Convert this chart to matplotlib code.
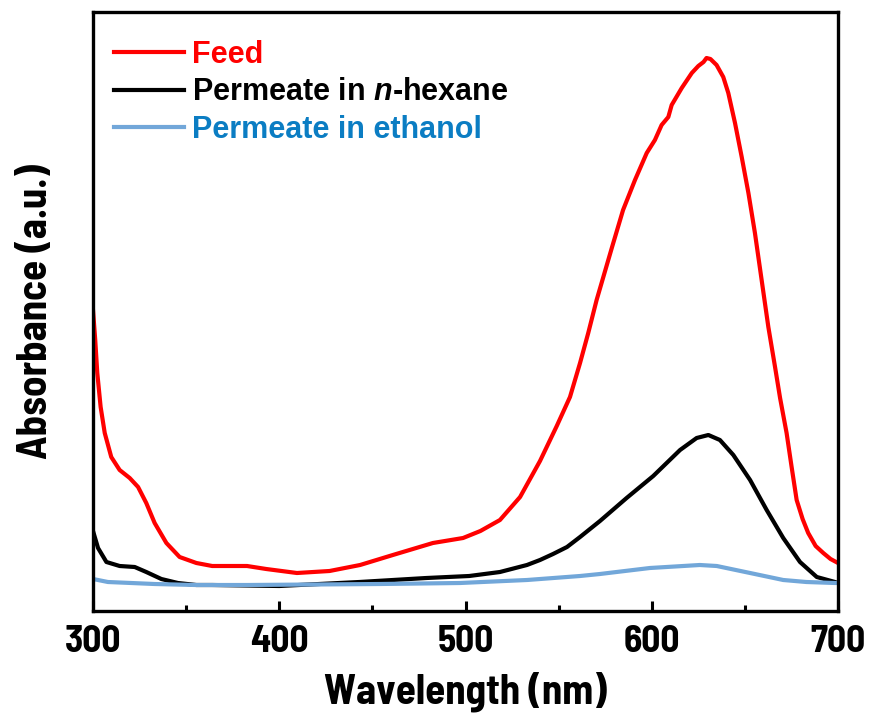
import matplotlib
matplotlib.use('Agg')
import matplotlib.pyplot as plt
from matplotlib import font_manager

# data (absorbance in arbitrary units)
wl_feed = [300, 301.2, 302.3, 304.1, 306.3, 309.8, 314.3, 319.7, 324.2, 328.6, 333.1, 339.4, 346.5,
           355.5, 364, 373, 382.7, 393, 409.5, 427, 443.4, 461, 482.5, 498.7, 508, 518.5, 529.3,
           540, 549, 556.1, 561.5, 565.9, 570.4, 578.7, 584.6, 591, 597.3, 601.7, 605.3, 608.9,
           610.7, 616.1, 621.5, 625, 627.8, 629.4, 631.5, 634.8, 638.4, 641.1, 644.7, 648.3,
           651.9, 655.4, 659, 662.6, 666.2, 668.9, 672.4, 675.1, 677.8, 681, 684, 688, 692.1,
           696, 700]
abs_feed = [301, 271, 238, 204, 178, 154, 141, 133, 124, 108, 88, 68, 54,
            48, 45, 45, 45, 42, 38, 40, 46, 56, 68, 73, 80, 91, 114,
            150, 185, 214, 248, 278, 311, 364, 401, 431, 458, 471, 486, 494,
            506, 523, 538, 545, 549, 553, 552, 546, 534, 518, 488, 454,
            418, 378, 331, 284, 244, 213, 178, 144, 111, 92, 78, 65, 58,
            52, 48]

wl_hex = [300, 302.7, 307.2, 314.3, 322.4, 328.6, 336.7, 345.6, 355.5, 364, 400, 443, 479, 502,
          518.5, 533, 540, 547, 554.5, 561.5, 572.2, 586.5, 600.8, 615.2, 624.1, 630.4, 636.6,
          643.8, 652.8, 661.7, 670.6, 679.6, 688.6, 698.4, 700]
abs_hex = [80, 63, 49, 45, 44, 39, 32, 28, 26, 26, 25, 29, 33, 35,
           39, 46, 51, 57, 64, 74, 90, 113, 135, 161, 173, 176, 171,
           156, 131, 101, 73, 49, 34, 29, 28]

wl_eth = [300, 308, 333, 355, 382.7, 454, 497, 533, 561.5, 572.2, 599, 625.8, 634.9, 652.8,
          670.6, 683, 698.4, 700]
abs_eth = [32, 29, 27, 26, 26, 27, 28, 31, 35, 37, 43, 46, 45, 38,
           31, 29, 28, 28]

names = ['Feed', 'Permeate in $\\mathbfit{n}$-hexane', 'Permeate in ethanol']
line_colors = ['#FF0000', '#000000', '#72A7D9']
text_colors = ['#FF0000', '#000000', '#0B7DC3']

installed = {f.name for f in font_manager.fontManager.ttflist}
narrow = 'Liberation Sans'
for n in ['Liberation Sans Narrow', 'Barlow Semi Condensed', 'Archivo Narrow', 'Barlow Condensed']:
    if n in installed:
        narrow = n
        break
plt.rcParams['font.family'] = ['Liberation Sans', 'DejaVu Sans']
plt.rcParams['mathtext.fontset'] = 'custom'
plt.rcParams['mathtext.bfit'] = 'Liberation Sans:bold:italic'
plt.rcParams['mathtext.bf'] = 'Liberation Sans:bold'

fig = plt.figure(figsize=(8.71, 7.21), dpi=100)
ax = fig.add_axes([93/871, 110/721, 745/871, 599/721])

ax.plot(wl_feed, abs_feed, color=line_colors[0], lw=3, label=names[0])
ax.plot(wl_hex, abs_hex, color=line_colors[1], lw=3, label=names[1])
ax.plot(wl_eth, abs_eth, color=line_colors[2], lw=3, label=names[2])

ax.set_xlim(300, 700)
ax.set_ylim(0, 599)
ax.set_xticks([300, 400, 500, 600, 700])
ax.set_xticks([350, 450, 550, 650], minor=True)
ax.set_yticks([])
ax.tick_params(axis='x', which='major', direction='in', length=7.5, width=2.2, pad=10)
ax.tick_params(axis='x', which='minor', direction='in', length=4, width=2.2)
for s in ax.spines.values():
    s.set_linewidth(2.4)
for lbl in ax.get_xticklabels():
    lbl.set_fontfamily(narrow)
    lbl.set_fontweight('bold')
    lbl.set_fontsize(27)

ax.set_xlabel('Wavelength (nm)', fontfamily=narrow, fontweight='bold', fontsize=29.5, labelpad=9)
ax.set_ylabel('Absorbance (a.u.)', fontfamily=narrow, fontweight='bold', fontsize=29.5, labelpad=27)

leg = ax.legend(loc='upper left', frameon=False, fontsize=22, handlelength=2.3,
                handletextpad=0.25, labelspacing=0.25, borderaxespad=0.0,
                bbox_to_anchor=(0.012, 0.974))
for t, c in zip(leg.get_texts(), text_colors):
    t.set_color(c)
    t.set_fontweight('bold')

fig.savefig('out.png', dpi=100)
